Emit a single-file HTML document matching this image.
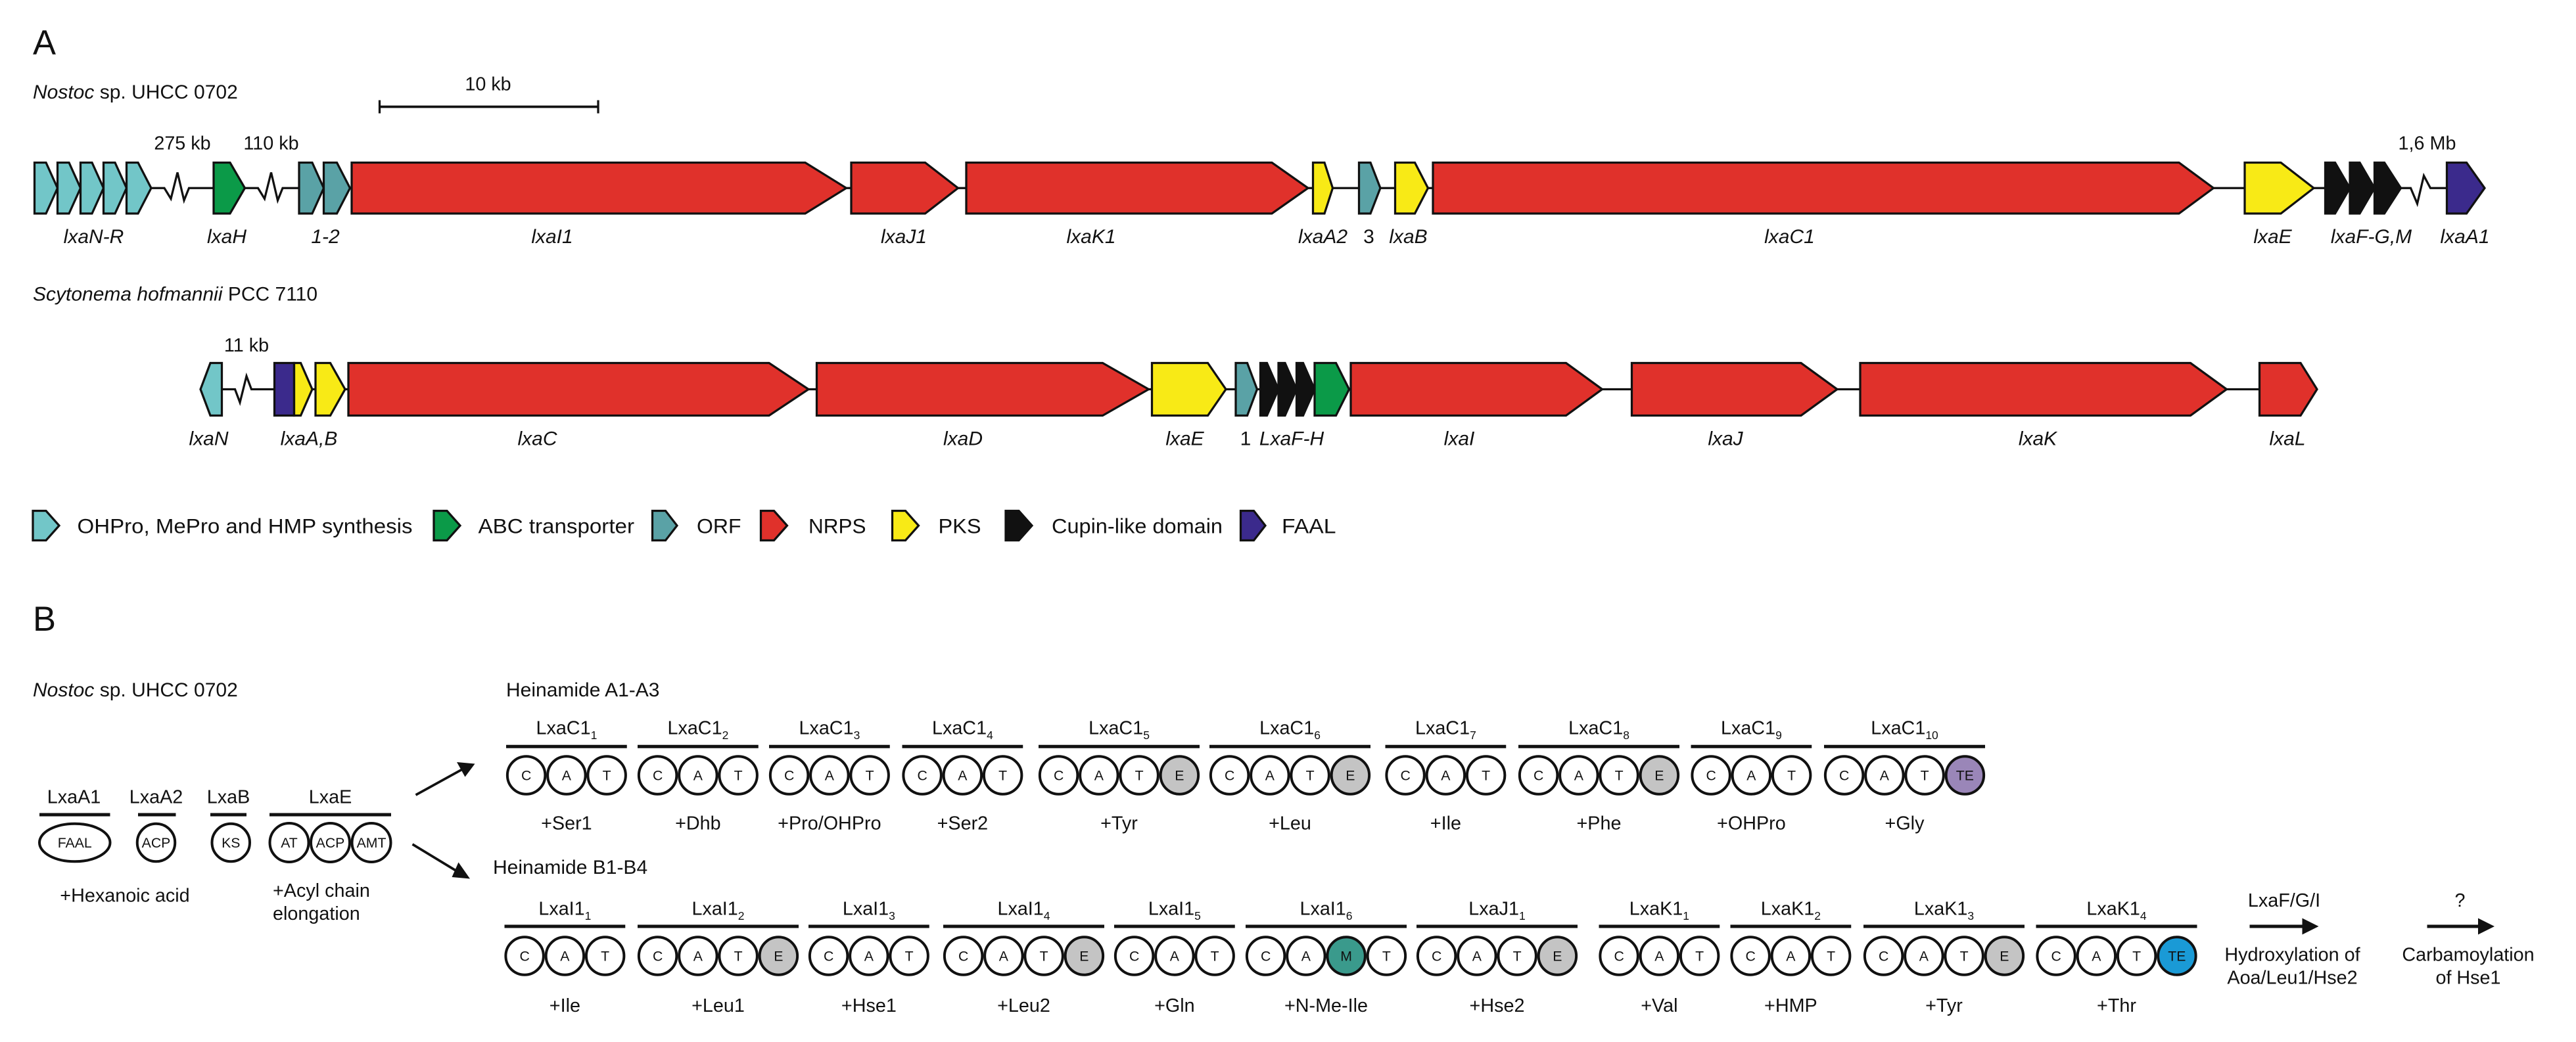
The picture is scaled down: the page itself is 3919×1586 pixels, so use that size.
<!DOCTYPE html>
<html><head><meta charset="utf-8"><style>
html,body{margin:0;padding:0;background:#fff;}
svg{display:block;}
text{font-family:"Liberation Sans",sans-serif;fill:#111;}
.gl{font-size:12px;font-style:italic;text-anchor:middle;}
.kb{font-size:11.5px;text-anchor:middle;}
.g{stroke:#111;stroke-width:1.3;stroke-linejoin:miter;}
.cy{fill:#72c6c8}.tl{fill:#5aa2a6}.gr{fill:#0b9a48}.rd{fill:#e0312b}.yl{fill:#f8ea16}.bk{fill:#111}.pu{fill:#3b2a8c}
.c{fill:#fff;stroke:#111;stroke-width:1.6;}
.e{fill:#c4c4c4;stroke:#111;stroke-width:1.6;}
.l{font-size:8.5px;text-anchor:middle;}
.ml{font-size:11.5px;text-anchor:middle;}
.aa{font-size:11.5px;text-anchor:middle;}
.bar{stroke:#111;stroke-width:2;}
.ln{stroke:#111;stroke-width:1.3;fill:none;}
.lg{font-size:12.5px;}
</style></head><body>
<svg width="3919" height="1586" viewBox="0 0 1567.6 634.4" xmlns="http://www.w3.org/2000/svg">
<text x="20" y="33" style="font-size:21px">A</text>
<text x="20" y="60" style="font-size:12px"><tspan font-style="italic">Nostoc</tspan> sp. UHCC 0702</text>
<text x="297" y="55" class="kb">10 kb</text>
<line x1="231" y1="65" x2="364" y2="65" class="ln" style="stroke-width:1.5"/>
<line x1="231" y1="61" x2="231" y2="69" class="ln"/><line x1="364" y1="61" x2="364" y2="69" class="ln"/>

<polyline class="ln" points="21,114.5 100,114.5 104,121 108,105 112,122 115,114.5 130,114.5"/>
<polyline class="ln" points="149,114.5 157,114.5 161,121 165,105 169,122 172,114.5 182,114.5"/>
<line class="ln" x1="213" y1="114.5" x2="1461" y2="114.5"/>
<polyline class="ln" points="1461,114.5 1467,114.5 1471,124 1475,107 1479,114.5 1489,114.5"/>
<polygon class="g cy" points="21,99 28,99 35,114.5 28,130 21,130"/>
<polygon class="g cy" points="35,99 42,99 49,114.5 42,130 35,130"/>
<polygon class="g cy" points="49,99 56,99 63,114.5 56,130 49,130"/>
<polygon class="g cy" points="63,99 70,99 77,114.5 70,130 63,130"/>
<polygon class="g cy" points="77,99 84,99 92,114.5 84,130 77,130"/>
<polygon class="g gr" points="130,99 140,99 149,114.5 140,130 130,130"/>
<polygon class="g tl" points="182,99 190,99 197,114.5 190,130 182,130"/>
<polygon class="g tl" points="197,99 205,99 213,114.5 205,130 197,130"/>
<polygon class="g rd" points="214,99 490,99 515,114.5 490,130 214,130"/>
<polygon class="g rd" points="518,99 563,99 583,114.5 563,130 518,130"/>
<polygon class="g rd" points="588,99 774,99 796,114.5 774,130 588,130"/>
<polygon class="g yl" points="799,99 806,99 811,114.5 806,130 799,130"/>
<polygon class="g tl" points="827,99 834,99 840,114.5 834,130 827,130"/>
<polygon class="g yl" points="849,99 861,99 869,114.5 861,130 849,130"/>
<polygon class="g rd" points="872,99 1326,99 1347,114.5 1326,130 872,130"/>
<polygon class="g yl" points="1366,99 1388,99 1408,114.5 1388,130 1366,130"/>
<polygon class="g bk" points="1415,99 1421,99 1430,114.5 1421,130 1415,130"/>
<polygon class="g bk" points="1430,99 1436,99 1445,114.5 1436,130 1430,130"/>
<polygon class="g bk" points="1445,99 1451,99 1461,114.5 1451,130 1445,130"/>
<polygon class="g pu" points="1489,99 1501,99 1512,114.5 1501,130 1489,130"/>
<text x="111" y="91" class="kb">275 kb</text>
<text x="165" y="91" class="kb">110 kb</text>
<text x="1477" y="91" class="kb">1,6 Mb</text>
<g class="gl">
<text x="57" y="148">lxaN-R</text><text x="138" y="148">lxaH</text><text x="198" y="148">1-2</text>
<text x="336" y="148">lxaI1</text><text x="550" y="148">lxaJ1</text><text x="664" y="148">lxaK1</text>
<text x="805" y="148">lxaA2</text><text x="833" y="148" style="font-style:normal">3</text><text x="857" y="148">lxaB</text>
<text x="1089" y="148">lxaC1</text><text x="1383" y="148">lxaE</text><text x="1443" y="148">lxaF-G,M</text><text x="1500" y="148">lxaA1</text>
</g>

<text x="20" y="183" style="font-size:12px"><tspan font-style="italic">Scytonema hofmannii</tspan> PCC 7110</text>
<polyline class="ln" points="135,237 143,237 146,245 150,229 153,237 165,237"/>
<line class="ln" x1="165" y1="237" x2="1410" y2="237"/>
<polygon class="g cy" points="135,221 128,221 122,237 128,253 135,253"/>
<rect class="g pu" x="167" y="221" width="12" height="32"/>
<polygon class="g yl" points="179,221 183,221 190,237 183,253 179,253"/>
<polygon class="g yl" points="192,221 201,221 210,237 201,253 192,253"/>
<polygon class="g rd" points="212,221 468,221 492,237 468,253 212,253"/>
<polygon class="g rd" points="497,221 671,221 699,237 671,253 497,253"/>
<polygon class="g yl" points="701,221 735,221 746,237 735,253 701,253"/>
<polygon class="g tl" points="752,221 759,221 765,237 759,253 752,253"/>
<polygon class="g bk" points="767,221 771,221 778,237 771,253 767,253"/>
<polygon class="g bk" points="778,221 782,221 789,237 782,253 778,253"/>
<polygon class="g bk" points="789,221 793,221 800,237 793,253 789,253"/>
<polygon class="g gr" points="800,221 813,221 821,237 813,253 800,253"/>
<polygon class="g rd" points="822,221 953,221 975,237 953,253 822,253"/>
<polygon class="g rd" points="993,221 1096,221 1118,237 1096,253 993,253"/>
<polygon class="g rd" points="1132,221 1333,221 1355,237 1333,253 1132,253"/>
<polygon class="g rd" points="1375,221 1400,221 1410,237 1400,253 1375,253"/>
<text x="150" y="214" class="kb">11 kb</text>
<g class="gl">
<text x="127" y="271">lxaN</text><text x="188" y="271">lxaA,B</text><text x="327" y="271">lxaC</text>
<text x="586" y="271">lxaD</text><text x="721" y="271">lxaE</text><text x="758" y="271" style="font-style:normal">1</text>
<text x="786" y="271">LxaF-H</text><text x="888" y="271">lxaI</text><text x="1050" y="271">lxaJ</text>
<text x="1240" y="271">lxaK</text><text x="1392" y="271">lxaL</text>
</g>

<polygon class="g cy" points="20,311 28,311 36,320 28,329 20,329"/><text x="47" y="324.5" class="lg" textLength="204" lengthAdjust="spacingAndGlyphs">OHPro, MePro and HMP synthesis</text>
<polygon class="g gr" points="264,311 272,311 280,320 272,329 264,329"/><text x="291" y="324.5" class="lg" textLength="95" lengthAdjust="spacingAndGlyphs">ABC transporter</text>
<polygon class="g tl" points="397,311 405,311 412,320 405,329 397,329"/><text x="424" y="324.5" class="lg" textLength="27" lengthAdjust="spacingAndGlyphs">ORF</text>
<polygon class="g rd" points="463,311 471,311 479,320 471,329 463,329"/><text x="492" y="324.5" class="lg" textLength="35" lengthAdjust="spacingAndGlyphs">NRPS</text>
<polygon class="g yl" points="543,311 551,311 559,320 551,329 543,329"/><text x="571" y="324.5" class="lg" textLength="26" lengthAdjust="spacingAndGlyphs">PKS</text>
<polygon class="g bk" points="612,311 620,311 628,320 620,329 612,329"/><text x="640" y="324.5" class="lg" textLength="104" lengthAdjust="spacingAndGlyphs">Cupin-like domain</text>
<polygon class="g pu" points="755,311 763,311 770,320 763,329 755,329"/><text x="780" y="324.5" class="lg" textLength="33" lengthAdjust="spacingAndGlyphs">FAAL</text>

<text x="20" y="384" style="font-size:21px">B</text>
<text x="20" y="424" style="font-size:12px"><tspan font-style="italic">Nostoc</tspan> sp. UHCC 0702</text>
<text x="308" y="424" style="font-size:12px">Heinamide A1-A3</text>
<text x="300" y="532" style="font-size:12px">Heinamide B1-B4</text>

<text x="45" y="489" class="ml">LxaA1</text><text x="95" y="489" class="ml">LxaA2</text><text x="139" y="489" class="ml">LxaB</text><text x="201" y="489" class="ml">LxaE</text>
<line class="bar" x1="24" y1="496" x2="67" y2="496"/><line class="bar" x1="84" y1="496" x2="107" y2="496"/><line class="bar" x1="128" y1="496" x2="150" y2="496"/><line class="bar" x1="164" y1="496" x2="238" y2="496"/>
<ellipse class="c" cx="45.5" cy="513" rx="21.5" ry="11.5"/><text x="45.5" y="516" class="l">FAAL</text>
<circle class="c" cx="95" cy="513" r="11.5"/><text x="95" y="516" class="l">ACP</text>
<circle class="c" cx="140.5" cy="513" r="11.5"/><text x="140.5" y="516" class="l">KS</text>
<circle class="c" cx="176" cy="513" r="11.8"/><text x="176" y="516" class="l">AT</text>
<circle class="c" cx="201" cy="513" r="11.8"/><text x="201" y="516" class="l">ACP</text>
<circle class="c" cx="226" cy="513" r="11.8"/><text x="226" y="516" class="l">AMT</text>
<text x="76" y="549" class="aa">+Hexanoic acid</text>
<text x="166" y="546" class="aa" style="text-anchor:start">+Acyl chain</text>
<text x="166" y="560" class="aa" style="text-anchor:start">elongation</text>
<line class="ln" x1="253" y1="484" x2="282" y2="468" style="stroke-width:1.5"/><polygon points="289,465 278,464 283,473" fill="#111"/>
<line class="ln" x1="251" y1="514" x2="279" y2="531" style="stroke-width:1.5"/><polygon points="286,535 279,525 275,534" fill="#111"/>

<g>
<text x="344.75" y="447" class="ml">LxaC1<tspan font-size="7" dy="3">1</tspan></text><line class="bar" x1="308" y1="454.5" x2="381.5" y2="454.5"/>
<text x="424.75" y="447" class="ml">LxaC1<tspan font-size="7" dy="3">2</tspan></text><line class="bar" x1="388" y1="454.5" x2="461.5" y2="454.5"/>
<text x="504.75" y="447" class="ml">LxaC1<tspan font-size="7" dy="3">3</tspan></text><line class="bar" x1="468" y1="454.5" x2="541.5" y2="454.5"/>
<text x="585.75" y="447" class="ml">LxaC1<tspan font-size="7" dy="3">4</tspan></text><line class="bar" x1="549" y1="454.5" x2="622.5" y2="454.5"/>
<text x="681" y="447" class="ml">LxaC1<tspan font-size="7" dy="3">5</tspan></text><line class="bar" x1="632" y1="454.5" x2="730" y2="454.5"/>
<text x="785" y="447" class="ml">LxaC1<tspan font-size="7" dy="3">6</tspan></text><line class="bar" x1="736" y1="454.5" x2="834" y2="454.5"/>
<text x="879.75" y="447" class="ml">LxaC1<tspan font-size="7" dy="3">7</tspan></text><line class="bar" x1="843" y1="454.5" x2="916.5" y2="454.5"/>
<text x="973" y="447" class="ml">LxaC1<tspan font-size="7" dy="3">8</tspan></text><line class="bar" x1="924" y1="454.5" x2="1022" y2="454.5"/>
<text x="1065.75" y="447" class="ml">LxaC1<tspan font-size="7" dy="3">9</tspan></text><line class="bar" x1="1029" y1="454.5" x2="1102.5" y2="454.5"/>
<text x="1159" y="447" class="ml">LxaC1<tspan font-size="7" dy="3">10</tspan></text><line class="bar" x1="1110" y1="454.5" x2="1208" y2="454.5"/>
</g>
<g>
<circle class="c" cx="320.25" cy="472" r="11.5"/><circle class="c" cx="344.75" cy="472" r="11.5"/><circle class="c" cx="369.25" cy="472" r="11.5"/>
<circle class="c" cx="400.25" cy="472" r="11.5"/><circle class="c" cx="424.75" cy="472" r="11.5"/><circle class="c" cx="449.25" cy="472" r="11.5"/>
<circle class="c" cx="480.25" cy="472" r="11.5"/><circle class="c" cx="504.75" cy="472" r="11.5"/><circle class="c" cx="529.25" cy="472" r="11.5"/>
<circle class="c" cx="561.25" cy="472" r="11.5"/><circle class="c" cx="585.75" cy="472" r="11.5"/><circle class="c" cx="610.25" cy="472" r="11.5"/>
<circle class="c" cx="644.25" cy="472" r="11.5"/><circle class="c" cx="668.75" cy="472" r="11.5"/><circle class="c" cx="693.25" cy="472" r="11.5"/><circle class="e" cx="717.75" cy="472" r="11.5"/>
<circle class="c" cx="748.25" cy="472" r="11.5"/><circle class="c" cx="772.75" cy="472" r="11.5"/><circle class="c" cx="797.25" cy="472" r="11.5"/><circle class="e" cx="821.75" cy="472" r="11.5"/>
<circle class="c" cx="855.25" cy="472" r="11.5"/><circle class="c" cx="879.75" cy="472" r="11.5"/><circle class="c" cx="904.25" cy="472" r="11.5"/>
<circle class="c" cx="936.25" cy="472" r="11.5"/><circle class="c" cx="960.75" cy="472" r="11.5"/><circle class="c" cx="985.25" cy="472" r="11.5"/><circle class="e" cx="1009.75" cy="472" r="11.5"/>
<circle class="c" cx="1041.25" cy="472" r="11.5"/><circle class="c" cx="1065.75" cy="472" r="11.5"/><circle class="c" cx="1090.25" cy="472" r="11.5"/>
<circle class="c" cx="1122.25" cy="472" r="11.5"/><circle class="c" cx="1146.75" cy="472" r="11.5"/><circle class="c" cx="1171.25" cy="472" r="11.5"/><circle class="e" style="fill:#9a86b8" cx="1195.75" cy="472" r="11.5"/>
</g>
<g class="l">
<text x="320.25" y="475">C</text><text x="344.75" y="475">A</text><text x="369.25" y="475">T</text>
<text x="400.25" y="475">C</text><text x="424.75" y="475">A</text><text x="449.25" y="475">T</text>
<text x="480.25" y="475">C</text><text x="504.75" y="475">A</text><text x="529.25" y="475">T</text>
<text x="561.25" y="475">C</text><text x="585.75" y="475">A</text><text x="610.25" y="475">T</text>
<text x="644.25" y="475">C</text><text x="668.75" y="475">A</text><text x="693.25" y="475">T</text><text x="717.75" y="475">E</text>
<text x="748.25" y="475">C</text><text x="772.75" y="475">A</text><text x="797.25" y="475">T</text><text x="821.75" y="475">E</text>
<text x="855.25" y="475">C</text><text x="879.75" y="475">A</text><text x="904.25" y="475">T</text>
<text x="936.25" y="475">C</text><text x="960.75" y="475">A</text><text x="985.25" y="475">T</text><text x="1009.75" y="475">E</text>
<text x="1041.25" y="475">C</text><text x="1065.75" y="475">A</text><text x="1090.25" y="475">T</text>
<text x="1122.25" y="475">C</text><text x="1146.75" y="475">A</text><text x="1171.25" y="475">T</text><text x="1195.75" y="475">TE</text>
</g>
<g class="aa">
<text x="344.75" y="505">+Ser1</text><text x="424.75" y="505">+Dhb</text><text x="504.75" y="505">+Pro/OHPro</text><text x="585.75" y="505">+Ser2</text>
<text x="681" y="505">+Tyr</text><text x="785" y="505">+Leu</text><text x="879.75" y="505">+Ile</text><text x="973" y="505">+Phe</text>
<text x="1065.75" y="505">+OHPro</text><text x="1159" y="505">+Gly</text>
</g>

<g>
<text x="343.75" y="557" class="ml">LxaI1<tspan font-size="7" dy="3">1</tspan></text><line class="bar" x1="307" y1="564" x2="380.5" y2="564"/>
<text x="437" y="557" class="ml">LxaI1<tspan font-size="7" dy="3">2</tspan></text><line class="bar" x1="388" y1="564" x2="486" y2="564"/>
<text x="528.75" y="557" class="ml">LxaI1<tspan font-size="7" dy="3">3</tspan></text><line class="bar" x1="492" y1="564" x2="565.5" y2="564"/>
<text x="623" y="557" class="ml">LxaI1<tspan font-size="7" dy="3">4</tspan></text><line class="bar" x1="574" y1="564" x2="672" y2="564"/>
<text x="714.75" y="557" class="ml">LxaI1<tspan font-size="7" dy="3">5</tspan></text><line class="bar" x1="678" y1="564" x2="751.5" y2="564"/>
<text x="807" y="557" class="ml">LxaI1<tspan font-size="7" dy="3">6</tspan></text><line class="bar" x1="758" y1="564" x2="856" y2="564"/>
<text x="911" y="557" class="ml">LxaJ1<tspan font-size="7" dy="3">1</tspan></text><line class="bar" x1="862" y1="564" x2="960" y2="564"/>
<text x="1009.75" y="557" class="ml">LxaK1<tspan font-size="7" dy="3">1</tspan></text><line class="bar" x1="973" y1="564" x2="1046.5" y2="564"/>
<text x="1089.75" y="557" class="ml">LxaK1<tspan font-size="7" dy="3">2</tspan></text><line class="bar" x1="1053" y1="564" x2="1126.5" y2="564"/>
<text x="1183" y="557" class="ml">LxaK1<tspan font-size="7" dy="3">3</tspan></text><line class="bar" x1="1134" y1="564" x2="1232" y2="564"/>
<text x="1288" y="557" class="ml">LxaK1<tspan font-size="7" dy="3">4</tspan></text><line class="bar" x1="1239" y1="564" x2="1337" y2="564"/>
</g>
<g>
<circle class="c" cx="319.25" cy="582" r="11.5"/><circle class="c" cx="343.75" cy="582" r="11.5"/><circle class="c" cx="368.25" cy="582" r="11.5"/>
<circle class="c" cx="400.25" cy="582" r="11.5"/><circle class="c" cx="424.75" cy="582" r="11.5"/><circle class="c" cx="449.25" cy="582" r="11.5"/><circle class="e" cx="473.75" cy="582" r="11.5"/>
<circle class="c" cx="504.25" cy="582" r="11.5"/><circle class="c" cx="528.75" cy="582" r="11.5"/><circle class="c" cx="553.25" cy="582" r="11.5"/>
<circle class="c" cx="586.25" cy="582" r="11.5"/><circle class="c" cx="610.75" cy="582" r="11.5"/><circle class="c" cx="635.25" cy="582" r="11.5"/><circle class="e" cx="659.75" cy="582" r="11.5"/>
<circle class="c" cx="690.25" cy="582" r="11.5"/><circle class="c" cx="714.75" cy="582" r="11.5"/><circle class="c" cx="739.25" cy="582" r="11.5"/>
<circle class="c" cx="770.25" cy="582" r="11.5"/><circle class="c" cx="794.75" cy="582" r="11.5"/><circle class="e" style="fill:#3a9a8c" cx="819.25" cy="582" r="11.5"/><circle class="c" cx="843.75" cy="582" r="11.5"/>
<circle class="c" cx="874.25" cy="582" r="11.5"/><circle class="c" cx="898.75" cy="582" r="11.5"/><circle class="c" cx="923.25" cy="582" r="11.5"/><circle class="e" cx="947.75" cy="582" r="11.5"/>
<circle class="c" cx="985.25" cy="582" r="11.5"/><circle class="c" cx="1009.75" cy="582" r="11.5"/><circle class="c" cx="1034.25" cy="582" r="11.5"/>
<circle class="c" cx="1065.25" cy="582" r="11.5"/><circle class="c" cx="1089.75" cy="582" r="11.5"/><circle class="c" cx="1114.25" cy="582" r="11.5"/>
<circle class="c" cx="1146.25" cy="582" r="11.5"/><circle class="c" cx="1170.75" cy="582" r="11.5"/><circle class="c" cx="1195.25" cy="582" r="11.5"/><circle class="e" cx="1219.75" cy="582" r="11.5"/>
<circle class="c" cx="1251.25" cy="582" r="11.5"/><circle class="c" cx="1275.75" cy="582" r="11.5"/><circle class="c" cx="1300.25" cy="582" r="11.5"/><circle class="e" style="fill:#1a9ad6" cx="1324.75" cy="582" r="11.5"/>
</g>
<g class="l">
<text x="319.25" y="585">C</text><text x="343.75" y="585">A</text><text x="368.25" y="585">T</text>
<text x="400.25" y="585">C</text><text x="424.75" y="585">A</text><text x="449.25" y="585">T</text><text x="473.75" y="585">E</text>
<text x="504.25" y="585">C</text><text x="528.75" y="585">A</text><text x="553.25" y="585">T</text>
<text x="586.25" y="585">C</text><text x="610.75" y="585">A</text><text x="635.25" y="585">T</text><text x="659.75" y="585">E</text>
<text x="690.25" y="585">C</text><text x="714.75" y="585">A</text><text x="739.25" y="585">T</text>
<text x="770.25" y="585">C</text><text x="794.75" y="585">A</text><text x="819.25" y="585">M</text><text x="843.75" y="585">T</text>
<text x="874.25" y="585">C</text><text x="898.75" y="585">A</text><text x="923.25" y="585">T</text><text x="947.75" y="585">E</text>
<text x="985.25" y="585">C</text><text x="1009.75" y="585">A</text><text x="1034.25" y="585">T</text>
<text x="1065.25" y="585">C</text><text x="1089.75" y="585">A</text><text x="1114.25" y="585">T</text>
<text x="1146.25" y="585">C</text><text x="1170.75" y="585">A</text><text x="1195.25" y="585">T</text><text x="1219.75" y="585">E</text>
<text x="1251.25" y="585">C</text><text x="1275.75" y="585">A</text><text x="1300.25" y="585">T</text><text x="1324.75" y="585">TE</text>
</g>
<g class="aa">
<text x="343.75" y="616">+Ile</text><text x="437" y="616">+Leu1</text><text x="528.75" y="616">+Hse1</text><text x="623" y="616">+Leu2</text>
<text x="714.75" y="616">+Gln</text><text x="807" y="616">+N-Me-Ile</text><text x="911" y="616">+Hse2</text><text x="1009.75" y="616">+Val</text>
<text x="1089.75" y="616">+HMP</text><text x="1183" y="616">+Tyr</text><text x="1288" y="616">+Thr</text>
</g>
<text x="1390" y="552" class="ml">LxaF/G/I</text>
<line class="ln" x1="1369" y1="564" x2="1402" y2="564" style="stroke-width:2"/><polygon points="1411,564 1401,559 1401,569" fill="#111"/>
<text x="1497" y="552" class="ml">?</text>
<line class="ln" x1="1477" y1="564" x2="1509" y2="564" style="stroke-width:2"/><polygon points="1518,564 1508,559 1508,569" fill="#111"/>
<text x="1395" y="585" class="ml">Hydroxylation of</text>
<text x="1395" y="599" class="ml">Aoa/Leu1/Hse2</text>
<text x="1502" y="585" class="ml">Carbamoylation</text>
<text x="1502" y="599" class="ml">of Hse1</text>
</svg>
</body></html>
